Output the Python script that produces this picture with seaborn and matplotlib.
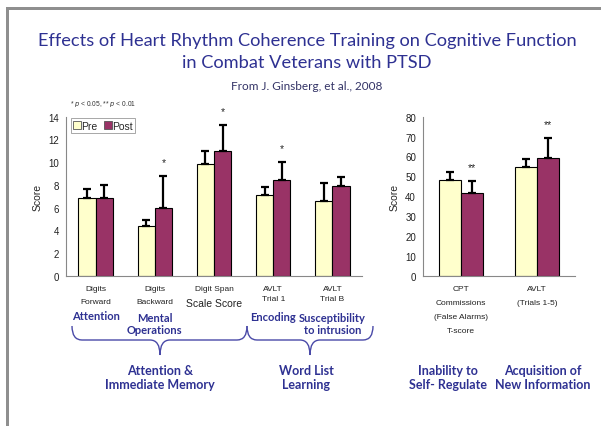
import numpy as np
import pandas as pd
import matplotlib.pyplot as plt
from matplotlib.path import Path
from matplotlib.patches import PathPatch, Rectangle
from matplotlib.lines import Line2D
import matplotlib.transforms as mtransforms
import seaborn as sns

sns.set_style("white")
plt.rcParams['font.family'] = ['Liberation Sans', 'DejaVu Sans']

# ---- data ----
phases = ["Pre", "Post"]

left_cats = ["DF", "DB", "DS", "AT1", "ATB"]
left_pre = [6.8, 4.4, 9.8, 7.1, 6.6]
left_pre_err = [0.8, 0.5, 1.2, 0.7, 1.6]
left_post = [6.8, 6.0, 11.0, 8.45, 7.9]
left_post_err = [1.2, 2.8, 2.3, 1.6, 0.8]
left_stars = ["", "*", "*", "*", ""]

right_cats = ["CPT", "AVLT"]
right_pre = [48.1, 54.5]
right_pre_err = [3.9, 4.1]
right_post = [41.7, 59.3]
right_post_err = [6.0, 10.2]
right_stars = ["**", "**"]

pre_color = "#FFFFCC"
post_color = "#993366"
blue = "#2E3192"
W, H = 601, 427

fig = plt.figure(figsize=(W / 100, H / 100), dpi=100)
fig.patch.set_facecolor("white")

# overlay in pixel coords for slide decorations
ov = fig.add_axes([0, 0, 1, 1], zorder=-1)
ov.set_xlim(0, W)
ov.set_ylim(H, 0)
ov.axis("off")
ov.add_patch(Rectangle((6, 8), W - 6, 3, color="#8F8F8F", lw=0))
ov.add_patch(Rectangle((6, 8), 3, H - 8, color="#8F8F8F", lw=0))


def px_axes(x0, x1, y0, y1):
    # y0 = top pixel, y1 = bottom pixel
    return fig.add_axes([x0 / W, (H - y1) / H, (x1 - x0) / W, (y1 - y0) / H])


def draw_panel(ax, cats, pre, pre_err, post, post_err, stars, ymax, ystep):
    df = pd.DataFrame({
        "cat": cats * 2,
        "phase": ["Pre"] * len(cats) + ["Post"] * len(cats),
        "score": pre + post,
    })
    sns.barplot(data=df, x="cat", y="score", hue="phase", hue_order=phases,
                palette=[pre_color, post_color], saturation=1, edgecolor="black",
                linewidth=0.8, width=0.58, errorbar=None, legend=False, ax=ax)
    for cont, errs in zip(ax.containers, [pre_err, post_err]):
        xs = [b.get_x() + b.get_width() / 2 for b in cont]
        ys = [b.get_height() for b in cont]
        ax.errorbar(xs, ys, yerr=[np.zeros(len(errs)), errs], fmt="none",
                    ecolor="black", elinewidth=1.6, capsize=3, capthick=1.6, zorder=1)
    post_cont = ax.containers[1]
    for b, e, s in zip(post_cont, post_err, stars):
        if s:
            ax.annotate(s, (b.get_x() + b.get_width() / 2, b.get_height() + e),
                        xytext=(0, 10), textcoords="offset points", ha="center",
                        va="center", fontsize=7.5, annotation_clip=False)
    n = len(cats)
    ax.set_xlim(-0.5, n - 0.5)
    ax.set_ylim(0, ymax)
    ax.set_yticks(np.arange(0, ymax + 1, ystep))
    ax.set_xticks(np.arange(-0.5, n, 1.0))
    ax.set_xticklabels([])
    ax.tick_params(axis="both", direction="out", length=3, width=0.8,
                   color="#888888", labelsize=7, labelcolor="#222222", pad=2)
    ax.tick_params(axis="x", length=4)
    sns.despine(ax=ax)
    for sp in ["left", "bottom"]:
        ax.spines[sp].set_color("#888888")
        ax.spines[sp].set_linewidth(0.8)
    ax.set_xlabel("")
    ax.set_ylabel("Score", fontsize=7.5, labelpad=4)


axL = px_axes(66, 362, 117.7, 276.7)
draw_panel(axL, left_cats, left_pre, left_pre_err, left_post, left_post_err,
           left_stars, 14, 2)
axR = px_axes(423, 575, 117.7, 276.7)
draw_panel(axR, right_cats, right_pre, right_pre_err, right_post, right_post_err,
           right_stars, 80, 10)

# legend
handles = [Line2D([], [], marker="s", ls="", markersize=5.5, markerfacecolor=c,
                  markeredgecolor="#555555", markeredgewidth=0.6)
           for c in [pre_color, post_color]]
leg = axL.legend(handles, phases, loc="upper left", bbox_to_anchor=(0.0, 1.025),
                 ncol=2, fontsize=7.5, frameon=True, fancybox=False, handlelength=0.6,
                 handletextpad=0.1, columnspacing=0.7, borderpad=0.25,
                 edgecolor="#999999", framealpha=1)
leg.get_frame().set_linewidth(0.6)

ov.text(70, 104, "* $p$ < 0.05, ** $p$ < 0.01", fontsize=4.8, ha="left", va="center",
        color="#333333")

# titles
tfont = ["Lato", "DejaVu Sans"]
ov.text(307, 41, "Effects of Heart Rhythm Coherence Training on Cognitive Function",
        ha="center", va="center", fontsize=13.15, color=blue, family=tfont)
ov.text(307, 63, "in Combat Veterans with PTSD", ha="center", va="center",
        fontsize=13.15, color=blue, family=tfont)
ov.text(307, 87, "From J. Ginsberg, et al., 2008", ha="center", va="center",
        fontsize=8.5, color="#333366", family=tfont)

# category labels
lab_tr_L = mtransforms.blended_transform_factory(axL.transData, ov.transData)
lab_tr_R = mtransforms.blended_transform_factory(axR.transData, ov.transData)
small = dict(ha="center", va="center", fontsize=6, color="#222222")
bold = dict(ha="center", va="center", fontsize=8, color=blue, fontweight="bold",
            family=tfont, linespacing=1.1)

axL_lines = [("Digits", "Forward"), ("Digits", "Backward"), ("Digit Span", None),
             ("AVLT", "Trial 1"), ("AVLT", "Trial B")]
for i, (l1, l2) in enumerate(axL_lines):
    ov.text(i, 290, l1, transform=lab_tr_L, **small)
    if l2:
        ov.text(i, 303 if i < 3 else 300, l2, transform=lab_tr_L, **small)
ov.text(2, 304, "Scale Score", transform=lab_tr_L, ha="center", va="center",
        fontsize=7.5, color="#222222")
ov.text(0, 317, "Attention", transform=lab_tr_L, **bold)
ov.text(1, 324.5, "Mental\nOperations", transform=lab_tr_L, **bold)
ov.text(3, 318, "Encoding", transform=lab_tr_L, **bold)
ov.text(4, 324.5, "Susceptibility\nto intrusion", transform=lab_tr_L, **bold)

for j, line in enumerate(["CPT", "Commissions", "(False Alarms)", "T-score"]):
    ov.text(0, 290 + j * 13.7, line, transform=lab_tr_R, **small)
for j, line in enumerate(["AVLT", "(Trials 1-5)"]):
    ov.text(1, 290 + j * 13.7, line, transform=lab_tr_R, **small)

big = dict(ha="center", va="center", fontsize=9, color=blue, fontweight="bold",
           family=tfont, linespacing=1.15)
ov.text(160, 378, "Attention &\nImmediate Memory", **big)
ov.text(306, 378, "Word List\nLearning", **big)
ov.text(448, 378, "Inability to\nSelf- Regulate", **big)
ov.text(543, 378, "Acquisition of\nNew Information", **big)


def brace(x0, x1, xm, ytop, ymid, ytip):
    r = 10
    verts = [(x0, ytop), (x0, ymid), (x0 + r, ymid),
             (xm - r, ymid), (xm, ymid), (xm, ytip),
             (xm, ymid), (xm + r, ymid),
             (x1 - r, ymid), (x1, ymid), (x1, ytop)]
    codes = [Path.MOVETO, Path.CURVE3, Path.CURVE3,
             Path.LINETO, Path.CURVE3, Path.CURVE3,
             Path.CURVE3, Path.CURVE3,
             Path.LINETO, Path.CURVE3, Path.CURVE3]
    ov.add_patch(PathPatch(Path(verts, codes), fill=False, ec="#4A4AA8", lw=1.0))


brace(72, 247, 160, 327, 341, 356)
brace(247, 373, 310, 327, 341, 356)

fig.savefig("out.png", dpi=100, facecolor="white")
